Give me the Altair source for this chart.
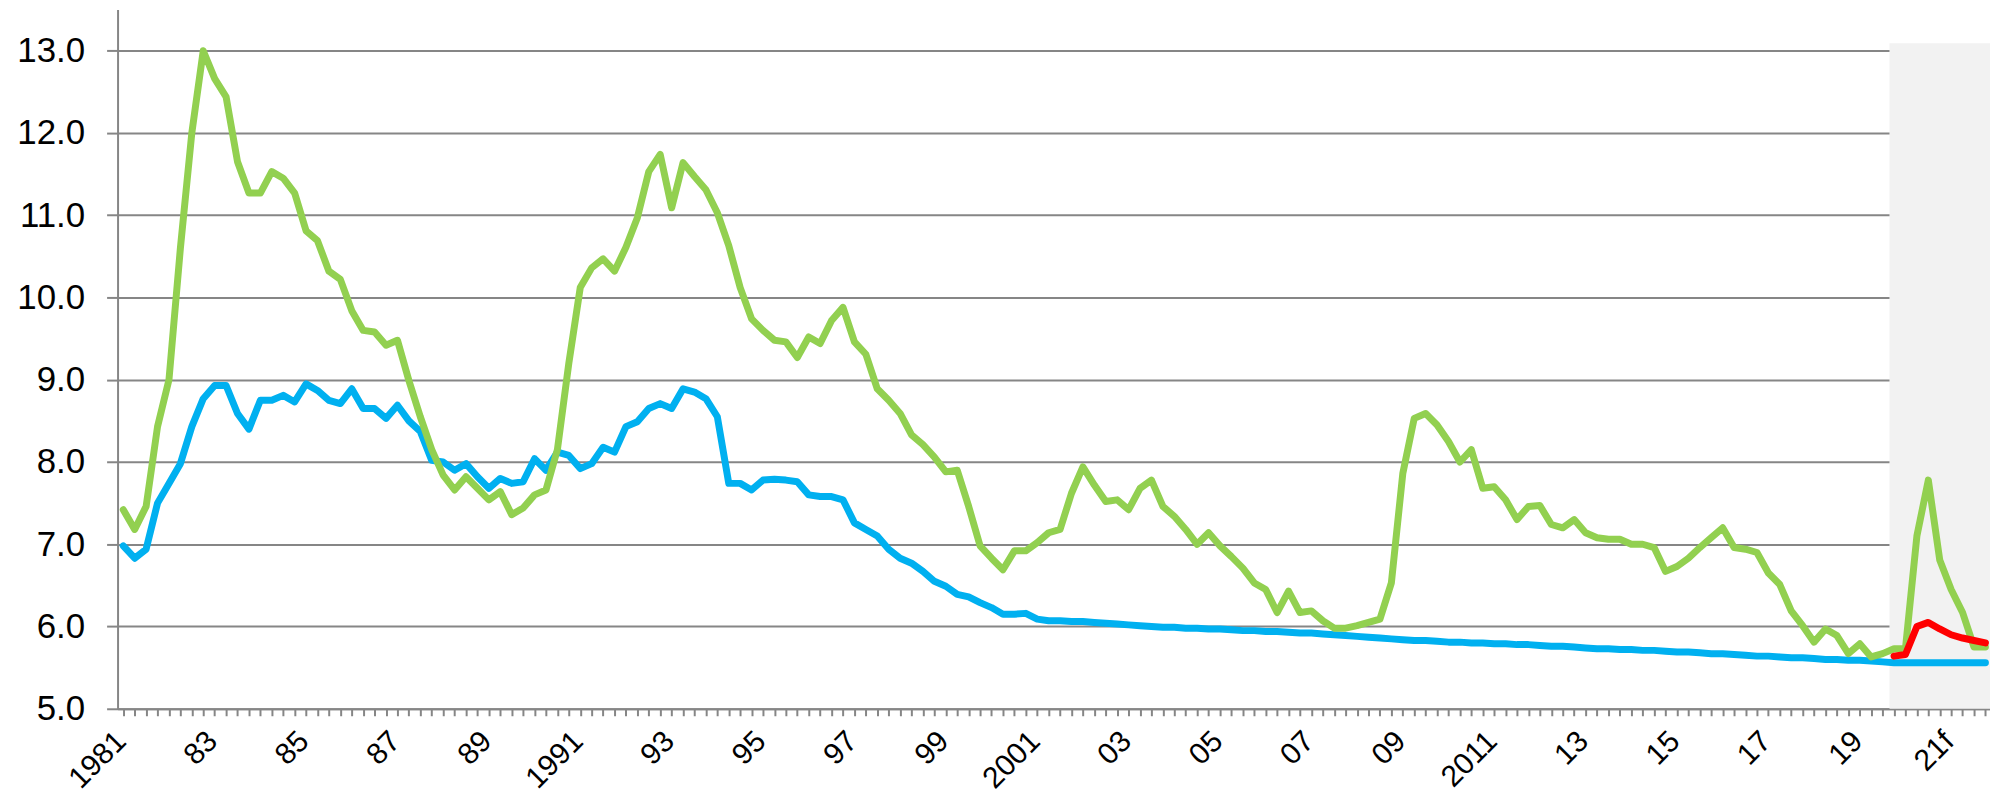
import altair as alt
import pandas as pd

start_year = 1981  # first quarter shown: 1981 Q1, one point per quarter

green = [7.42, 7.18, 7.46, 8.43, 9.0, 10.6, 12.0, 13.0, 12.66, 12.44,
         11.65, 11.27, 11.27, 11.53, 11.45, 11.27, 10.81, 10.69, 10.32, 10.22,
         9.84, 9.6, 9.58, 9.42, 9.48, 8.99, 8.55, 8.15, 7.84, 7.66,
         7.82, 7.68, 7.54, 7.64, 7.36, 7.44, 7.60, 7.66, 8.15, 9.2,
         10.12, 10.36, 10.47, 10.32, 10.61, 10.97, 11.53, 11.74, 11.09, 11.64,
         11.47, 11.31, 11.03, 10.63, 10.12, 9.74, 9.60, 9.48, 9.46, 9.27,
         9.52, 9.44, 9.72, 9.88, 9.46, 9.31, 8.89, 8.75, 8.59, 8.33,
         8.21, 8.06, 7.88, 7.90, 7.46, 6.98, 6.83, 6.69, 6.92, 6.92,
         7.02, 7.14, 7.18, 7.62, 7.94, 7.72, 7.52, 7.54, 7.42, 7.68,
         7.78, 7.46, 7.34, 7.18, 7.0, 7.14, 6.98, 6.85, 6.71, 6.53,
         6.45, 6.17, 6.43, 6.17, 6.19, 6.07, 5.98, 5.98, 6.01, 6.05,
         6.09, 6.53, 7.86, 8.53, 8.59, 8.45, 8.25, 8.0, 8.15, 7.68,
         7.70, 7.54, 7.30, 7.46, 7.47, 7.24, 7.20, 7.30, 7.14, 7.08,
         7.06, 7.06, 7.0, 7.0, 6.96, 6.67, 6.73, 6.83, 6.96, 7.08,
         7.20, 6.96, 6.94, 6.90, 6.65, 6.51, 6.19, 6.01, 5.81, 5.97,
         5.89, 5.67, 5.79, 5.63, 5.67, 5.73, 5.73, 7.10, 7.78, 6.81,
         6.45, 6.17, 5.75, 5.75]

blue = [6.98, 6.83, 6.94, 7.5, 7.74, 7.98, 8.43, 8.77, 8.93, 8.93,
        8.59, 8.40, 8.75, 8.75, 8.81, 8.73, 8.95, 8.87, 8.75, 8.71,
        8.89, 8.65, 8.65, 8.53, 8.69, 8.50, 8.37, 8.02, 8.0, 7.9,
        7.98, 7.82, 7.68, 7.8, 7.74, 7.76, 8.04, 7.9, 8.12, 8.08,
        7.92, 7.98, 8.18, 8.12, 8.43, 8.49, 8.65, 8.71, 8.65, 8.89,
        8.85, 8.77, 8.55, 7.74, 7.74, 7.66, 7.78, 7.79, 7.78, 7.76,
        7.60, 7.58, 7.58, 7.54, 7.26, 7.18, 7.10, 6.94, 6.83, 6.77,
        6.67, 6.55, 6.49, 6.39, 6.36, 6.29, 6.23, 6.15, 6.15, 6.16,
        6.09, 6.07, 6.07, 6.06, 6.06, 6.05, 6.04, 6.03, 6.02, 6.01,
        6.00, 5.99, 5.99, 5.98, 5.98, 5.97, 5.97, 5.96, 5.95, 5.95,
        5.94, 5.94, 5.93, 5.92, 5.92, 5.91, 5.90, 5.89, 5.88, 5.87,
        5.86, 5.85, 5.84, 5.83, 5.83, 5.82, 5.81, 5.81, 5.80, 5.80,
        5.79, 5.79, 5.78, 5.78, 5.77, 5.76, 5.76, 5.75, 5.74, 5.73,
        5.73, 5.72, 5.72, 5.71, 5.71, 5.70, 5.69, 5.69, 5.68, 5.67,
        5.67, 5.66, 5.65, 5.64, 5.64, 5.63, 5.62, 5.62, 5.61, 5.60,
        5.60, 5.59, 5.59, 5.58, 5.57, 5.56, 5.56, 5.56, 5.56, 5.56,
        5.56, 5.56, 5.56, 5.56]

red_start_index = 155  # red series begins at 2019 Q4
red = [5.64, 5.66, 6.00, 6.05, 5.97, 5.90, 5.86, 5.83, 5.80]

label_years = [1981, 1983, 1985, 1987, 1989, 1991, 1993, 1995, 1997, 1999,
               2001, 2003, 2005, 2007, 2009, 2011, 2013, 2015, 2017, 2019, 2021]
year_labels = ['1981', '83', '85', '87', '89', '1991', '93', '95', '97', '99',
               '2001', '03', '05', '07', '09', '2011', '13', '15', '17', '19', '21f']

forecast_start = 2019.65   # shaded forecast band
x_min, x_max = 1980.875, 2021.85
y_min, y_max = 5.0, 13.5
shade_top = 13.09

def t(i):
    return start_year + i / 4.0

df_g = pd.DataFrame({"t": [t(i) for i in range(len(green))], "v": green})
df_b = pd.DataFrame({"t": [t(i) for i in range(len(blue))], "v": blue})
df_r = pd.DataFrame({"t": [t(red_start_index + i) for i in range(len(red))], "v": red})
df_s = pd.DataFrame({"x": [forecast_start], "x2": [x_max], "y": [y_min], "y2": [shade_top]})

tick_values = [t(i) for i in range(len(green))]
yr_arr = "[" + ",".join(str(y) for y in label_years) + "]"
lb_arr = "[" + ",".join("'" + s + "'" for s in year_labels) + "]"
label_expr = f"indexof({yr_arr}, datum.value) >= 0 ? {lb_arr}[indexof({yr_arr}, datum.value)] : ''"

FONT = "Liberation Sans"
GRID = "#868686"

xs = alt.Scale(domain=[x_min, x_max], nice=False, zero=False)
ys = alt.Scale(domain=[y_min, y_max], nice=False, zero=False)

x_axis = alt.Axis(values=tick_values, labelExpr=label_expr, labelAngle=-45,
                  labelAlign="right", labelBaseline="top", labelPadding=10,
                  labelOffset=-13, labelOverlap=False, labelFont=FONT, labelFontSize=30,
                  labelColor="#000000", tickSize=7, tickColor=GRID, tickWidth=2,
                  domainColor=GRID, domainWidth=2, grid=False, title=None,
                  labelFlush=False, labelBound=False)
y_axis = alt.Axis(values=[5, 6, 7, 8, 9, 10, 11, 12, 13], format=".1f",
                  labelFont=FONT, labelFontSize=35, labelColor="#000000",
                  labelPadding=22, tickSize=11, tickColor=GRID, tickWidth=2,
                  domainColor=GRID, domainWidth=2, grid=True, gridColor=GRID,
                  gridWidth=2, title=None)

shade = alt.Chart(df_s).mark_rect(color="#F2F2F2").encode(
    x=alt.X("x:Q", scale=xs, axis=x_axis),
    x2="x2:Q",
    y=alt.Y("y:Q", scale=ys, axis=y_axis),
    y2="y2:Q",
)

def line(df, color):
    return alt.Chart(df).mark_line(color=color, strokeWidth=7,
                                   strokeJoin="round", strokeCap="round").encode(
        x=alt.X("t:Q", scale=xs, axis=x_axis),
        y=alt.Y("v:Q", scale=ys, axis=y_axis),
    )

chart = alt.layer(
    shade,
    line(df_b, "#00B0F0"),
    line(df_g, "#92D050"),
    line(df_r, "#FF0000"),
).properties(
    width=1880, height=702,
    autosize=alt.AutoSizeParams(type="none"),
    padding={"left": 110, "top": 0, "right": 0, "bottom": 90},
    background="#FFFFFF",
).configure_view(stroke=None)

chart.save("out.html", embed_options={"renderer": "svg", "actions": False})
